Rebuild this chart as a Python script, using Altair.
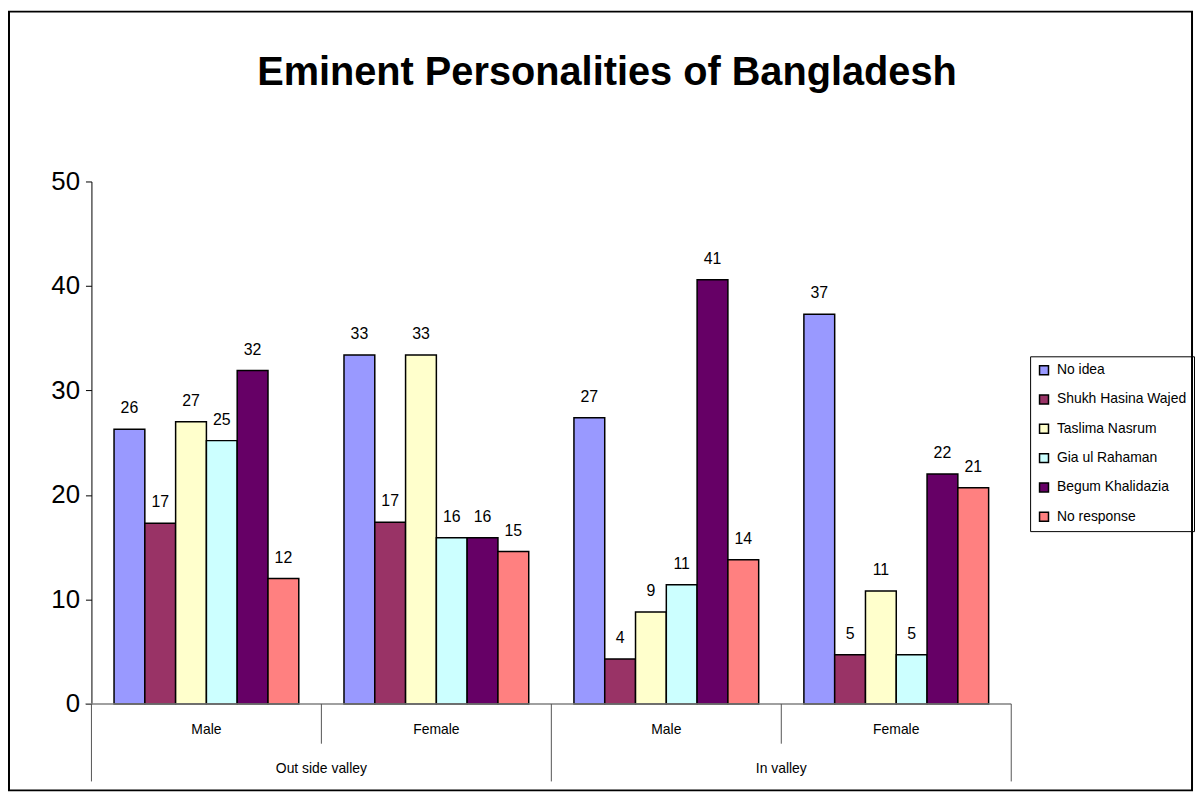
import altair as alt
import pandas as pd

# ---- data ----
outer_groups = ["Out side valley", "Out side valley", "In valley", "In valley"]
sub_groups = ["Male", "Female", "Male", "Female"]
series = ["No idea", "Shukh Hasina Wajed", "Taslima Nasrum", "Gia ul Rahaman",
          "Begum Khalidazia", "No response"]
colors = ["#9999FF", "#993366", "#FFFFCC", "#CCFFFF", "#660066", "#FF8080"]

no_idea = [26.3, 33.4, 27.4, 37.3]
shukh_hasina = [17.3, 17.4, 4.3, 4.7]
taslima = [27.0, 33.4, 8.8, 10.8]
gia = [25.2, 15.9, 11.4, 4.7]
begum = [31.9, 15.9, 40.6, 22.0]
no_response = [12.0, 14.6, 13.8, 20.7]

y_ticks = [0, 10, 20, 30, 40, 50]
title_text = "Eminent Personalities of Bangladesh"

# ---- tables ----
values_by_series = [no_idea, shukh_hasina, taslima, gia, begum, no_response]
cats = [f"{o}|{s}" for o, s in zip(outer_groups, sub_groups)]
rows = []
for s, vals in zip(series, values_by_series):
    for c, o, sg, v in zip(cats, outer_groups, sub_groups, vals):
        rows.append({"cat": c, "outer": o, "sub": sg, "series": s, "value": v})
df = pd.DataFrame(rows)
cat_df = pd.DataFrame({"cat": cats, "outer": outer_groups, "sub": sub_groups})

FONT = "Liberation Sans, Arial, sans-serif"
W, H = 926, 526

xscale = alt.Scale(domain=cats, paddingInner=0, paddingOuter=0)
xoff_scale = alt.Scale(domain=series, paddingInner=0, paddingOuter=0.734)
yscale = alt.Scale(domain=[0, 50], nice=False)

base = alt.Chart(df)

bars = base.mark_bar(stroke="black", strokeWidth=1.5).encode(
    x=alt.X("cat:N", scale=xscale, axis=None),
    xOffset=alt.XOffset("series:N", scale=xoff_scale),
    y=alt.Y("value:Q", scale=yscale,
            axis=alt.Axis(values=y_ticks, title=None, grid=False, tickSize=6,
                          tickColor="black", domainColor="black", labelColor="black",
                          labelFontSize=26, labelFont=FONT, labelPadding=6,
                          tickWidth=1, domainWidth=1)),
    color=alt.Color("series:N", scale=alt.Scale(domain=series, range=colors),
                    legend=alt.Legend(title=None, orient="none", legendX=945, legendY=176,
                                      strokeColor="black", padding=7,
                                      symbolType="square", symbolSize=81,
                                      symbolStrokeColor="black", symbolStrokeWidth=1.5,
                                      labelFontSize=14, labelFont=FONT, labelColor="black",
                                      labelOffset=6, rowPadding=13.5)),
)

labels = base.mark_text(fontSize=16, font=FONT, baseline="alphabetic", dy=-16,
                        color="black").encode(
    x=alt.X("cat:N", scale=xscale, axis=None),
    xOffset=alt.XOffset("series:N", scale=xoff_scale),
    y=alt.Y("value:Q", scale=yscale),
    text=alt.Text("value:Q", format=".0f"),
)

cat_base = alt.Chart(cat_df)

baseline = alt.Chart(pd.DataFrame({"v": [0]})).mark_rule(
    color="#808080", strokeWidth=1.5).encode(
    x=alt.value(-6), x2=alt.value(W), y=alt.Y("v:Q", scale=yscale))

sub_labels = cat_base.mark_text(fontSize=14, font=FONT, color="black",
                                baseline="middle").encode(
    x=alt.X("cat:N", scale=xscale, axis=None),
    y=alt.value(H + 26),
    text="sub:N",
)

short_rules = cat_base.transform_filter(
    alt.FieldOneOfPredicate(field="sub", oneOf=["Female"])
).mark_rule(color="#555555", strokeWidth=1).encode(
    x=alt.X("cat:N", scale=xscale, axis=None, bandPosition=0),
    y=alt.value(H), y2=alt.value(H + 40),
)

long_rules_left = cat_base.transform_filter(
    alt.FieldOneOfPredicate(field="sub", oneOf=["Male"])
).mark_rule(color="#555555", strokeWidth=1).encode(
    x=alt.X("cat:N", scale=xscale, axis=None, bandPosition=0),
    y=alt.value(H), y2=alt.value(H + 78),
)

long_rule_right = cat_base.transform_filter(
    alt.FieldEqualPredicate(field="cat", equal=cats[-1])
).mark_rule(color="#555555", strokeWidth=1).encode(
    x=alt.X("cat:N", scale=xscale, axis=None, bandPosition=1),
    y=alt.value(H), y2=alt.value(H + 78),
)

outer_labels = cat_base.transform_filter(
    alt.FieldOneOfPredicate(field="sub", oneOf=["Male"])
).mark_text(fontSize=14, font=FONT, color="black", baseline="middle").encode(
    x=alt.X("cat:N", scale=xscale, axis=None, bandPosition=1),
    y=alt.value(H + 66),
    text="outer:N",
)

title = alt.Chart(pd.DataFrame({"t": [title_text]})).mark_text(
    fontSize=40, font=FONT, fontWeight="bold", color="black", baseline="alphabetic"
).encode(x=alt.value(519), y=alt.value(-97), text="t:N")

frame = alt.Chart(pd.DataFrame({"f": [0]})).mark_rect(
    stroke="black", strokeWidth=2, fillOpacity=0).encode(
    x=alt.value(-83), x2=alt.value(1108), y=alt.value(-171), y2=alt.value(613))

chart = alt.layer(
    frame, bars, labels, baseline, sub_labels, short_rules, long_rules_left,
    long_rule_right, outer_labels, title
).properties(
    width=W, height=H, padding=0, background="white"
).configure_view(stroke=None)

chart.save("out.html", embed_options={"renderer": "svg", "actions": False})
